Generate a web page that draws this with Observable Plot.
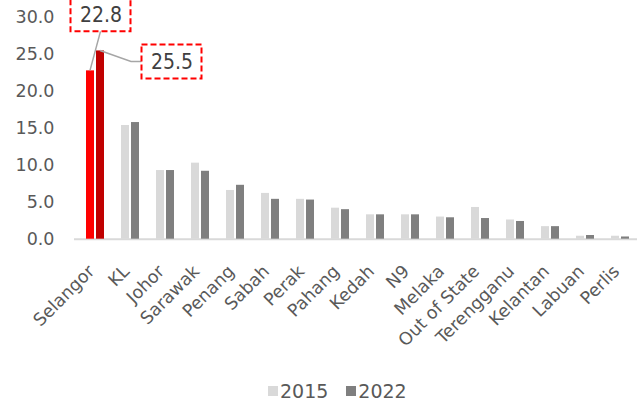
<!DOCTYPE html>
<html><head><meta charset="utf-8">
<script src="https://cdn.jsdelivr.net/npm/d3@7"></script>
<script src="https://cdn.jsdelivr.net/npm/@observablehq/plot@0.6"></script>
<style>
html,body{margin:0;padding:0;background:#fff;overflow:hidden;}
#chart svg{display:block;}
.legend{height:42px;display:flex;align-items:center;font-family:"DejaVu Sans";font-size:19px;color:#595959;margin-left:268px;}
.item{display:flex;align-items:center;}
.sw{width:10px;height:10px;display:inline-block;margin-right:2px;}
.gap{width:18px;}
</style></head><body>
<div id="chart"></div>
<div class="legend" id="legend"></div>
<script>
const states = ["Selangor","KL","Johor","Sarawak","Penang","Sabah","Perak","Pahang","Kedah","N9","Melaka","Out of State","Terengganu","Kelantan","Labuan","Perlis"];
const share2015 = [22.8,15.4,9.3,10.3,6.6,6.2,5.4,4.2,3.3,3.3,3.0,4.3,2.6,1.7,0.4,0.4];
const share2022 = [25.5,15.8,9.3,9.2,7.3,5.4,5.3,4.0,3.3,3.3,2.9,2.8,2.4,1.7,0.5,0.3];
const years = ["2015","2022"];
const yTicks = [0,5,10,15,20,25,30];
const highlight = "Selangor";

const colors = {"2015":"#d9d9d9","2022":"#7f7f7f"};
const hiColors = {"2015":"#ff0000","2022":"#c00000"};

const rows = states.map((s,i)=>({state:s, v2015:share2015[i], v2022:share2022[i]}));
const fmt = d3.format(".1f");
const hi = rows.filter(d => d.state === highlight);

const plot = Plot.plot({
  width:637, height:370,
  marginLeft:74, marginRight:0, marginTop:17, marginBottom:131,
  style:{fontFamily:"DejaVu Sans", fontSize:"17.5px", color:"#595959", background:"#fff", overflow:"hidden"},
  x:{domain:states, range:[74,640], paddingInner:0.49, paddingOuter:0.254, align:0.5, label:null, axis:null},
  y:{domain:[0,30], range:[238.7,17.2], label:null, axis:null},
  color:{type:"identity"},
  marks:[
    Plot.ruleY([0], {stroke:"#d9d9d9", strokeWidth:2}),
    Plot.barY(rows, {x:"state", y:"v2015", fill: d => d.state===highlight ? hiColors["2015"] : colors["2015"], insetRight:10}),
    Plot.barY(rows, {x:"state", y:"v2022", fill: d => d.state===highlight ? hiColors["2022"] : colors["2022"], insetLeft:10}),
    Plot.axisY({ticks:yTicks, tickFormat:fmt, tickSize:0, tickPadding:20, fontSize:17.5, label:null}),
    Plot.axisX({tickRotate:-45, tickSize:0, tickPadding:29, dx:-4, fontSize:17.5, label:null}),
    Plot.text(hi, {x:"state", y:"v2015", text: d => fmt(d.v2015), dx:5.5, dy:-56, fontFamily:"DejaVu Sans Condensed", fontSize:21, fill:"#404040"}),
    Plot.text(hi, {x:"state", y:"v2022", text: d => fmt(d.v2022), dx:76.5, dy:11, fontFamily:"DejaVu Sans Condensed", fontSize:21, fill:"#404040"})
  ]
});
document.getElementById("chart").append(plot);

// callout boxes and leader lines, positioned from the plot's scales
const xs = plot.scale("x"), ys = plot.scale("y");
let xa, ya, bw;
if (xs.apply) { xa = xs.apply; ya = ys.apply; bw = xs.bandwidth; }
else {
  const b = d3.scaleBand(xs.domain, xs.range).paddingInner(xs.paddingInner).paddingOuter(xs.paddingOuter).align(xs.align);
  const l = d3.scaleLinear(ys.domain, ys.range);
  xa = b; ya = l; bw = b.bandwidth();
}
const cx = xa(highlight) + bw/2;
const h = hi[0];
const b1 = {x: cx + 5.5, y: ya(h.v2015) - 56};
const b2 = {x: cx + 76.5, y: ya(h.v2022) + 11};
const g = d3.select(plot).append("g");
const line = d3.line();
g.append("path").attr("d", line([[cx-5, ya(h.v2015)], [b1.x, b1.y+17]]))
  .attr("fill","none").attr("stroke","#a6a6a6").attr("stroke-width",1.5);
g.append("path").attr("d", line([[cx+5, ya(h.v2022)], [b2.x-40.5, b2.y], [b2.x-30, b2.y]]))
  .attr("fill","none").attr("stroke","#a6a6a6").attr("stroke-width",1.5);
for (const b of [b1, b2]) {
  g.append("rect").attr("x", b.x-30).attr("y", b.y-17).attr("width",60).attr("height",34)
    .attr("fill","none").attr("stroke","#ff0000").attr("stroke-width",2).attr("stroke-dasharray","6,3");
}

// legend
const lg = document.getElementById("legend");
years.forEach((yr, i) => {
  if (i) { const s = document.createElement("span"); s.className = "gap"; lg.append(s); }
  const it = document.createElement("span"); it.className = "item";
  const sw = document.createElement("span"); sw.className = "sw"; sw.style.background = colors[yr];
  const t = document.createElement("span"); t.textContent = yr;
  it.append(sw, t); lg.append(it);
});
</script>
</body></html>
